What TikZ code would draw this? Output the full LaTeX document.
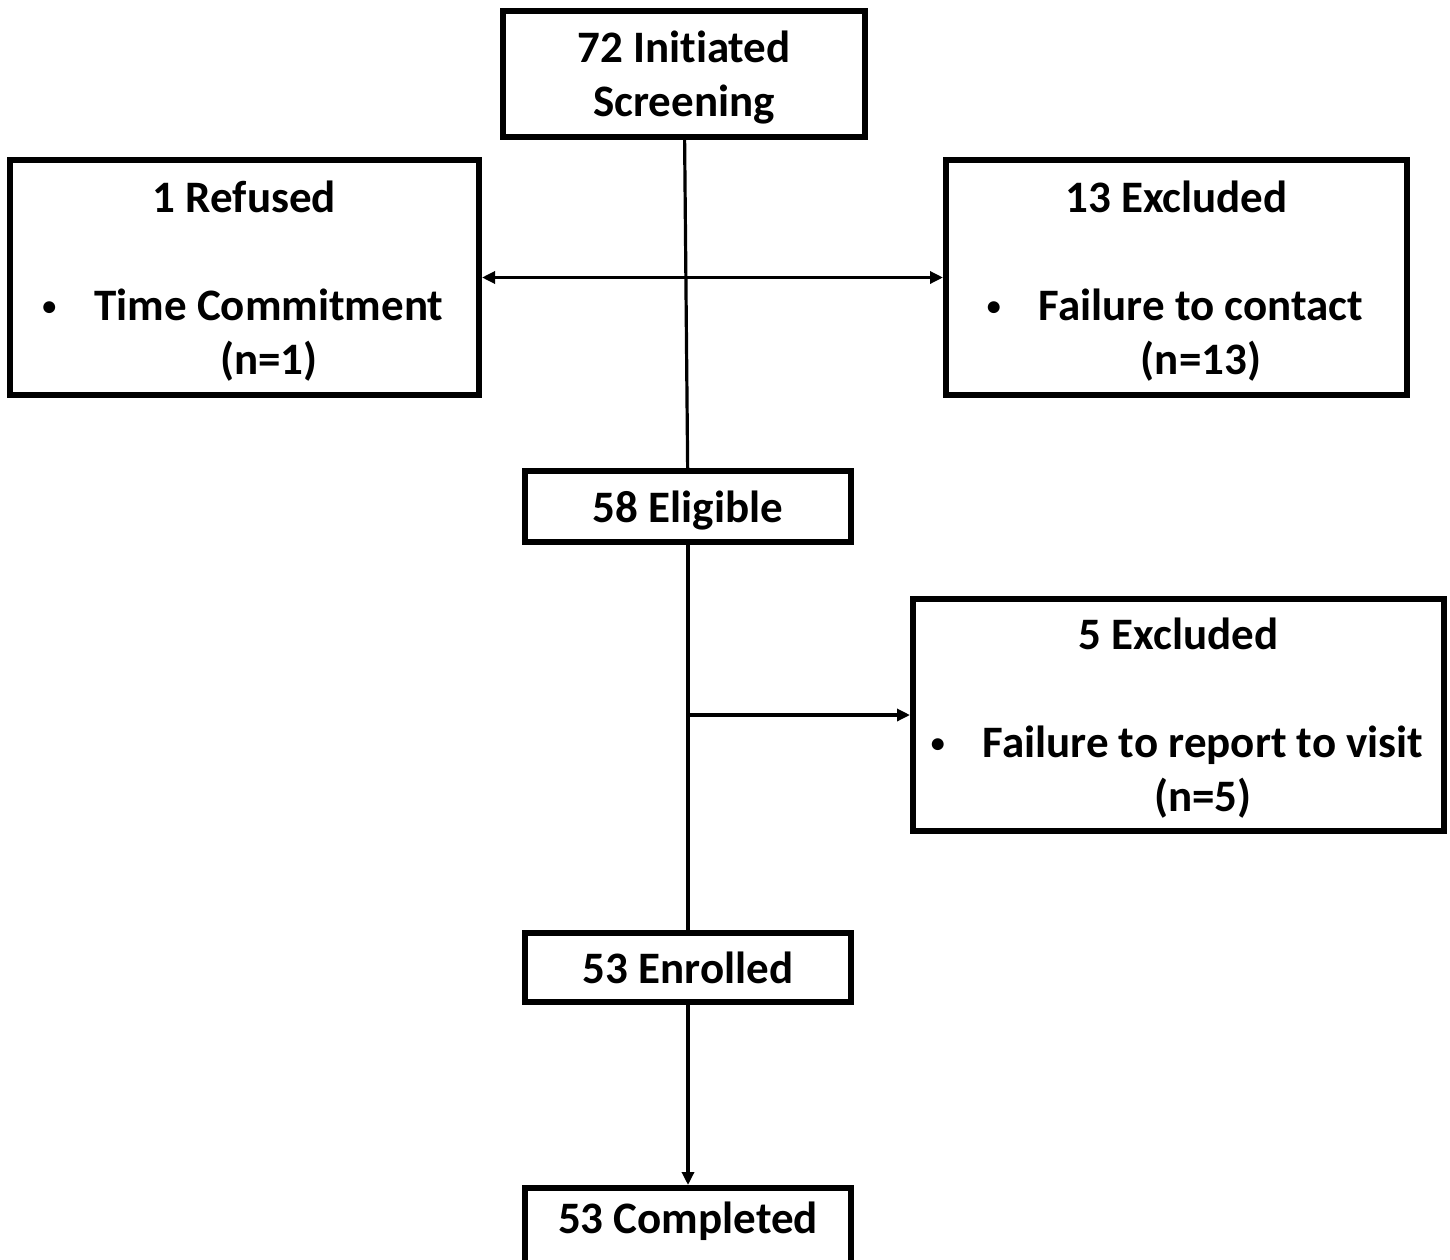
\documentclass[tikz,border=0pt]{standalone}
\usepackage{fontspec}
\setmainfont{Carlito}[Ligatures=NoCommon]
\usetikzlibrary{arrows.meta,positioning,calc}
\newcommand{\bul}{\makebox[49pt][l]{\hspace{-3pt}\raisebox{5pt}{\fontsize{28}{28}\selectfont\textbullet}}}
\newcommand{\ind}{\hspace*{49pt}}
\newcommand{\hi}{\rule{0pt}{1em}}

\begin{document}
\begin{tikzpicture}[
  x=1pt,y=-1pt,
  >={Triangle[length=13pt,width=12pt]},
  box/.style={draw,line width=6pt,inner sep=0pt,align=center,
    font=\fontsize{45}{54}\selectfont\bfseries,
    execute at begin node={\rule[-0.3em]{0pt}{1.3em}},
    execute at end node={\rule[-0.3em]{0pt}{1.3em}}},
  link/.style={line width=3.2pt}
]
\useasboundingbox (0,0) rectangle (1450,1260);

\node[box,minimum width=362pt,minimum height=126pt] (init) at (684,74)
  {\hi 72 Initiated\\Screening};

\node[box,minimum width=469pt,minimum height=235pt] (refused) at (244.5,277.5)
  {\hi 1 Refused\\[54pt]\bul Time Commitment\\\ind(n=1)};
\node[box,minimum width=461pt,minimum height=235pt] (excl1) at (1176.5,277.5)
  {\hi 13 Excluded\\[54pt]\bul Failure to contact\\\ind(n=13)};

\node[box,minimum width=326pt,minimum height=71pt] (eligible) at (688,506.5)
  {58 Eligible};

\node[box,minimum width=531pt,minimum height=232pt] (excl2) at (1178.5,715)
  {\hi 5 Excluded\\[54pt]\bul Failure to report to visit\\\ind(n=5)};

\node[box,minimum width=326pt,minimum height=69pt] (enrolled) at (688,967.5)
  {53 Enrolled};
\node[box,minimum width=326pt,minimum height=78pt,text depth=31.5pt] (completed) at (688,1227)
  {53 Completed};

% connectors
\draw[link] (init) -- (eligible);
\draw[link,<->] (refused) -- (excl1);
\draw[link] (eligible) -- (enrolled);
\coordinate (split) at (eligible.south |- excl2.west);
\draw[link,->] (split) -- (excl2.west);
\draw[link,->] (enrolled) -- (completed);

\end{tikzpicture}
\end{document}
